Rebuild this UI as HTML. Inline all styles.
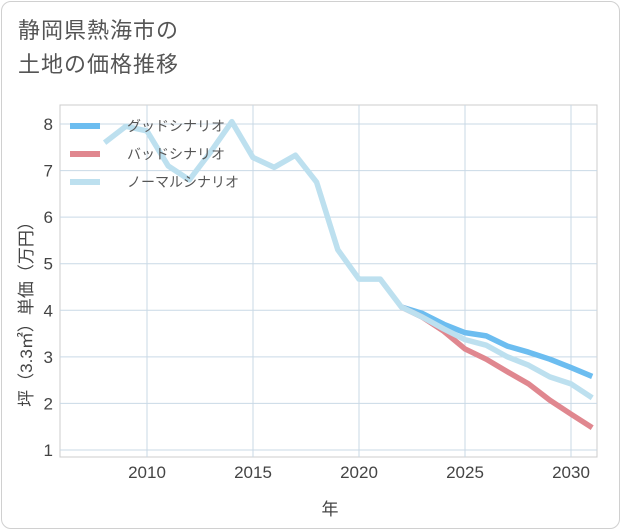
<!DOCTYPE html>
<html><head><meta charset="utf-8"><style>
body{margin:0;background:#fff;font-family:"Liberation Sans","Noto Sans CJK JP",sans-serif;}
#card{position:absolute;left:1px;top:1px;width:617px;height:526px;border:1px solid #d0d0d0;border-radius:10px;background:#fff;}
#title{position:absolute;left:18px;top:14px;font-size:22px;line-height:34px;color:#555;letter-spacing:1px;}
svg{position:absolute;left:0;top:0;}
</style></head><body>
<div id="card"></div>
<div id="title">静岡県熱海市の<br>土地の価格推移</div>
<svg id="chart" width="621" height="530"></svg>
<script>
const years=[2008,2009,2010,2011,2012,2013,2014,2015,2016,2017,2018,2019,2020,2021,2022,2023,2024,2025,2026,2027,2028,2029,2030,2031];
const normalVals=[7.6,7.95,7.85,7.1,6.8,7.4,8.05,7.28,7.07,7.33,6.75,5.3,4.67,4.67,4.07,3.85,3.6,3.37,3.25,3.0,2.82,2.57,2.42,2.12];
const futureYears=[2022,2023,2024,2025,2026,2027,2028,2029,2030,2031];
const goodVals=[4.07,3.93,3.7,3.52,3.45,3.23,3.1,2.95,2.77,2.58];
const badVals=[4.07,3.85,3.55,3.17,2.95,2.68,2.42,2.07,1.77,1.48];
const xTicks=[2010,2015,2020,2025,2030];
const yTicks=[1,2,3,4,5,6,7,8];
const L=60,R=597,T=105,B=457;
const x=v=>147+(v-2010)*21.2;
const y=v=>450-(v-1)*46.57;
const s=document.getElementById('chart');
const NS='http://www.w3.org/2000/svg';
function mk(t,a){const e=document.createElementNS(NS,t);for(const k in a)e.setAttribute(k,a[k]);s.appendChild(e);return e;}
let bg=mk('rect',{x:L,y:T,width:R-L,height:B-T,fill:'#fff',stroke:'#ccc'});


for(const yr of xTicks){const g=mk('line',{x1:x(yr),x2:x(yr),y1:T,y2:B,stroke:'#c9d9e6',"stroke-width":1});

}
for(const v of yTicks){const g=mk('line',{x1:L,x2:R,y1:y(v),y2:y(v),stroke:'#c9d9e6'});


const t=mk('text',{x:53,y:y(v)+6,"text-anchor":"end","font-size":17,fill:'#444'});t.textContent=v;

}
for(const v of xTicks){const t=mk('text',{x:x(v),y:478,"text-anchor":"middle","font-size":17,fill:'#444'});t.textContent=v;

}
function line(xs,vs,c,n){const p=mk('polyline',{points:xs.map((yr,i)=>x(yr)+','+y(vs[i])).join(' '),fill:'none',stroke:c,"stroke-width":5.5,"stroke-linejoin":"round"});

}
line(futureYears,goodVals,'#6cbdf0','good-scenario-line');
line(futureYears,badVals,'#e0878f','bad-scenario-line');
line(years,normalVals,'#bde0ef','normal-scenario-line');
const legend=[['グッドシナリオ','#6cbdf0'],['バッドシナリオ','#e0878f'],['ノーマルシナリオ','#bde0ef']];
legend.forEach((l,i)=>{const ly=126+i*28;
const r=mk('line',{x1:70,x2:100,y1:ly,y2:ly,stroke:l[1],"stroke-width":6});


const t=mk('text',{x:127,y:ly+5,"font-size":14,fill:'#555'});t.textContent=l[0];

});
const xt=mk('text',{x:330,y:515,"text-anchor":"middle","font-size":17,fill:'#444'});xt.textContent='年';


const yt=mk('text',{x:0,y:0,"text-anchor":"middle","font-size":17,fill:'#444',transform:'translate(32,310) rotate(-90)'});yt.textContent='坪（3.3㎡）単価（万円）';


</script>
</body></html>
